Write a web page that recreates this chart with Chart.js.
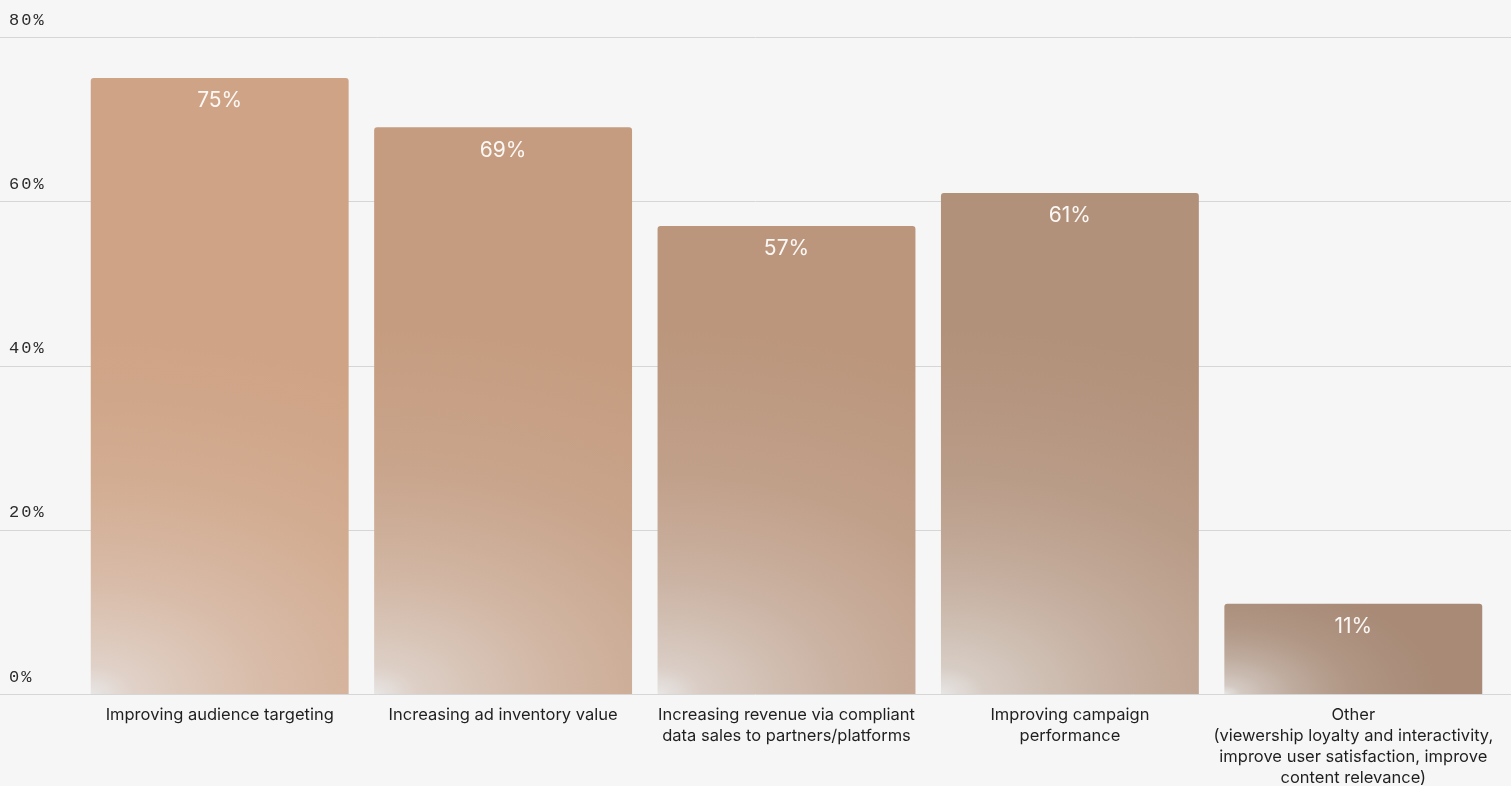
<!DOCTYPE html>
<html>
<head>
<meta charset="utf-8">
<title>Data monetisation goals</title>
<script src="https://cdn.jsdelivr.net/npm/chart.js@4.4.1/dist/chart.umd.min.js"></script>
<style>
  html, body { margin: 0; padding: 0; background: #f6f6f6; }
  .chart-box { width: 1511px; height: 786px; }
</style>
</head>
<body>
<div class="chart-box"><canvas id="goalsChart"></canvas></div>
<script>
// categories (multi-line labels) and share of respondents, %
const goals = [
  ['Improving audience targeting'],
  ['Increasing ad inventory value'],
  ['Increasing revenue via compliant', 'data sales to partners/platforms'],
  ['Improving campaign', 'performance'],
  ['Other', '(viewership loyalty and interactivity,', 'improve user satisfaction, improve', 'content relevance)']
];
const shares = [75, 69, 57, 61, 11];
const yTicks = [0, 20, 40, 60, 80];

// bar tones, warm tan fading to taupe
const barColors = ['#cfa385', '#c59c80', '#bb967d', '#b2917a', '#a88a76'];
const fadeColor = '#e7e5e4';
const BAR_PCT = 0.91;
// [position along glow, share of bar tone]
const glowStops = [[0, 0], [0.06, 0.3], [0.15, 0.47], [0.25, 0.63], [0.36, 0.76], [0.48, 0.87], [0.65, 0.95], [0.8, 1]];

function mix(a, b, t) {
  const pa = [1, 3, 5].map(k => parseInt(a.substr(k, 2), 16));
  const pb = [1, 3, 5].map(k => parseInt(b.substr(k, 2), 16));
  const c = pa.map((v, k) => Math.round(v + (pb[k] - v) * t));
  return 'rgb(' + c.join(',') + ')';
}

// paints one bar's fill on an offscreen canvas and hands it back as a pattern:
// flat tone plus an elliptical glow from the bottom-left corner
function barFill(ctx) {
  const chart = ctx.chart;
  const i = ctx.dataIndex;
  if (i === undefined || !chart.chartArea) return barColors[0];
  const base = barColors[i];
  const xs = chart.scales.x, ys = chart.scales.y;
  const cx = xs.getPixelForValue(i);
  const half = xs.width / goals.length * BAR_PCT / 2;
  const left = cx - half, w = half * 2;
  const top = ys.getPixelForValue(shares[i]);
  const bottom = ys.getPixelForValue(0);
  const h = bottom - top;
  const rx = Math.min(360, 1.5 * h);
  const ry = Math.min(230, 0.8 * h);

  const off = document.createElement('canvas');
  off.width = chart.width;
  off.height = chart.height;
  const o = off.getContext('2d');
  o.fillStyle = base;
  o.fillRect(left - 2, top - 2, w + 4, h + 4);
  o.save();
  o.translate(left, bottom);
  o.scale(rx, ry);
  const g = o.createRadialGradient(0, 0, 0, 0, 0, 2);
  glowStops.forEach(([p, t]) => g.addColorStop(p, mix(fadeColor, base, t)));
  o.fillStyle = g;
  o.fillRect(-0.01, -(h + 2) / ry, (w + 4) / rx, (h + 4) / ry);
  o.restore();
  return chart.ctx.createPattern(off, 'no-repeat');
}

// full-width horizontal rules behind the bars, value labels on top
const fullGrid = {
  id: 'fullGrid',
  beforeDraw(chart) {
    chart.ctx.letterSpacing = '0px';
  },
  beforeDatasetsDraw(chart) {
    const { ctx, width } = chart;
    const ys = chart.scales.y;
    ctx.save();
    ctx.strokeStyle = '#d6d6d6';
    ctx.lineWidth = 1;
    ys.ticks.forEach(t => {
      const y = Math.round(ys.getPixelForValue(t.value)) + 0.5;
      ctx.beginPath();
      ctx.moveTo(0, y);
      ctx.lineTo(width, y);
      ctx.stroke();
    });
    ctx.restore();
  },
  afterDatasetsDraw(chart) {
    const { ctx } = chart;
    const meta = chart.getDatasetMeta(0);
    ctx.save();
    ctx.fillStyle = '#fbf8f5';
    ctx.font = '400 21px Inter, "Noto Sans", sans-serif';
    ctx.textAlign = 'center';
    ctx.textBaseline = 'middle';
    meta.data.forEach((bar, i) => {
      ctx.fillText(shares[i] + '%', bar.x, bar.y + 23);
    });
    ctx.restore();
    // y tick labels are drawn next (ticks.z = 1), spaced out
    ctx.letterSpacing = '2px';
  },
  afterDraw(chart) {
    chart.ctx.letterSpacing = '0px';
  }
};

new Chart(document.getElementById('goalsChart'), {
  type: 'bar',
  data: {
    labels: goals,
    datasets: [{
      data: shares,
      backgroundColor: barFill,
      borderRadius: { topLeft: 3, topRight: 3, bottomLeft: 0, bottomRight: 0 },
      borderSkipped: false,
      categoryPercentage: 1,
      barPercentage: BAR_PCT
    }]
  },
  options: {
    responsive: true,
    maintainAspectRatio: false,
    animation: false,
    layout: { padding: { left: 9, top: 37, right: 16, bottom: 0 } },
    plugins: {
      legend: { display: false },
      tooltip: { enabled: false }
    },
    scales: {
      x: {
        afterFit: s => { s.height = 92; },
        grid: { display: false, drawTicks: false },
        border: { display: false },
        ticks: {
          autoSkip: false,
          maxRotation: 0,
          padding: 11,
          color: '#1f1f1f',
          font: { family: 'Inter, "Noto Sans", sans-serif', size: 16.5, lineHeight: '21px' }
        }
      },
      y: {
        min: 0,
        max: 80,
        afterBuildTicks: s => { s.ticks = yTicks.map(v => ({ value: v })); },
        afterFit: s => { s.width = 69; },
        grid: { display: false, drawTicks: false },
        border: { display: false },
        ticks: {
          z: 1,
          crossAlign: 'far',
          labelOffset: -17,
          color: '#2b2b2b',
          font: { family: '"Liberation Mono", "DejaVu Sans Mono", monospace', size: 17 },
          callback: v => v + '%'
        }
      }
    }
  },
  plugins: [fullGrid]
});
</script>
</body>
</html>
